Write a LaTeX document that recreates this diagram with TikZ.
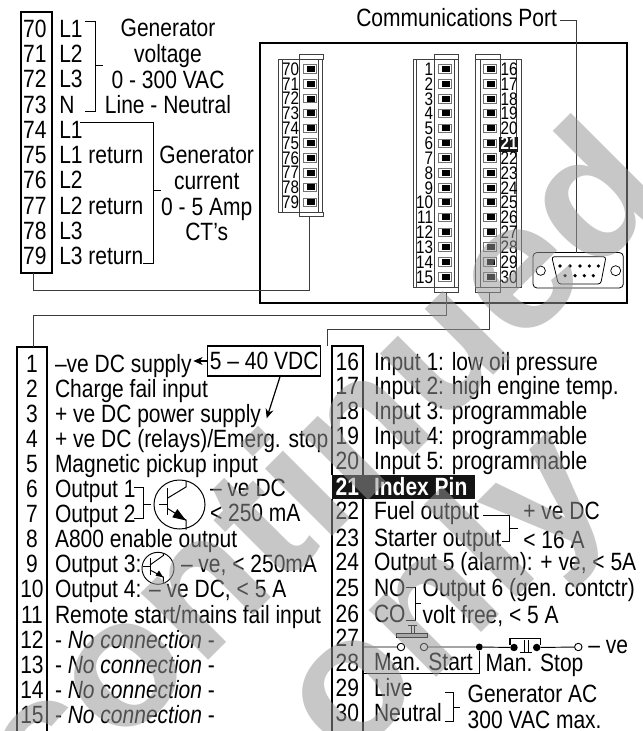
\documentclass[tikz,border=0pt]{standalone}
\usepackage{fontspec}
\usetikzlibrary{arrows.meta,calc}
\setmainfont[FakeStretch=0.84]{Liberation Sans}
\newfontfamily\wmfont[FakeStretch=1.03]{Liberation Sans}
\definecolor{wmgrey}{RGB}{151,151,151}
\definecolor{linegrey}{RGB}{60,60,60}
\newcommand\fsbig{\fontsize{18.75}{20}\selectfont}
\newcommand\fssmall{\fontsize{13.6}{14}\selectfont}
\tikzset{
  lbl/.style={anchor=west,inner sep=0pt,outer sep=0pt,text height=13.4pt,text depth=0pt,font=\fsbig},
  ctr/.style={lbl,anchor=center},
  pinl/.style={anchor=center,inner sep=0pt,outer sep=0pt,text height=9.6pt,text depth=0pt,font=\fssmall},
  pinr/.style={pinl,anchor=east},
  pinw/.style={pinl,anchor=west},
  heavy/.style={draw=black,line width=1.3pt},
  conn/.style={draw=linegrey,line width=0.75pt},
  thinl/.style={draw=black,line width=0.6pt},
  brk/.style={draw=black,line width=0.6pt},
  plugl/.style={draw=black!75,line width=0.55pt},
  boxn/.style={draw=black,line width=0.9pt,inner sep=0pt,outer sep=0pt},
  headarrow/.style={draw=black,line width=0.9pt,-{Stealth[length=7pt,width=6pt]}},
  wmark/.style={rotate=45,anchor=base east,opacity=0.53,text=wmgrey,inner sep=0pt,font=\wmfont\bfseries\fontsize{135}{135}\selectfont},
}
\newcommand\pinsq[2]{%
  \draw[line width=0.45pt,draw=black!55,fill=white] (#1,#2-4.2) rectangle (#1+12.7,#2+4.2);
  \fill[black] (#1+3.4,#2-3) rectangle (#1+11.9,#2+3);
}
\begin{document}
\begin{tikzpicture}[x=0.75pt,y=-0.75pt]
\useasboundingbox (0,0) rectangle (642,731);
\fill[white] (0,0) rectangle (642,731);
% ---- top left terminal list
\node[boxn,heavy,minimum width=23.25pt,minimum height=196pt] (boxA) at (36.2,142.4) {};
\foreach \n/\yy in {70/28.3,71/53.3,72/79,73/104.5,74/130,75/155,76/180,77/205.5,78/230.7,79/256}
  \node[ctr] (a\n) at (34.9,\yy) {\n};
\foreach \n/\t/\yy in {70/L1/28.3,71/L2/53.3,72/L3/79,73/N/104.5,74/L1/130,75/L1 return/155,76/L2/180,77/L2 return/205.5,78/L3/230.7,79/L3 return/256}
  \node[lbl] (at\n) at (59.3,\yy) {\t};
\draw[brk] (85,21.7) -- (95.7,21.7) -- (95.7,111.7) -- (85,111.7) (95.7,65) -- (103,65);
\draw[brk] (80,122.3) -- (153.3,122.3) -- (153.3,263.3) -- (143,263.3) (153.3,190.7) -- (161,190.7);
\foreach \nm/\t/\yy in {gv1/Generator/28,gv2/voltage/54,gv3/0 - 300 VAC/80,gv4/Line - Neutral/105}
  \node[ctr] (\nm) at (168,\yy) {\t};
\foreach \nm/\t/\yy in {gc1/Generator/155,gc2/current/181,gc3/0 - 5 Amp/207,gc4/CT's/232}
  \node[ctr] (\nm) at (206.7,\yy) {\t};
% ---- instrument
\draw[heavy] (260,43.3) rectangle (627.3,302.7);
\node[ctr,anchor=east] (comms) at (557,17.3) {Communications Port};
% block A
\draw[plugl] (278,59.3) rectangle (322.7,212.3);
\draw[plugl] (282.3,59.3) -- (282.3,212.3) (299.3,59.3) -- (299.3,212.3) (318.7,59.3) -- (318.7,212.3);
\draw[plugl] (299.3,54.3) rectangle (323.3,59.3);
\draw[plugl] (299.3,212.3) rectangle (323.3,216.7);
\coordinate (plugAout) at (309.3,216.7);
\foreach \i in {0,...,9}{
  \pgfmathsetmacro\yy{69+\i*14.8}
  \pgfmathtruncatemacro\nn{70+\i}
  \pinsq{303.3}{\yy}
  \node[pinr] (pa\nn) at (299,\yy) {\nn};
}
% block B
\draw[plugl] (413.3,59.3) rectangle (458.3,287.3);
\draw[plugl] (416.7,59.3) -- (416.7,287.3) (434,59.3) -- (434,287.3) (454,59.3) -- (454,287.3);
\draw[plugl] (434,54.3) rectangle (458.3,59.3);
\draw[plugl] (434,287.3) rectangle (458.3,292.7);
\coordinate (plugBout) at (446,292.7);
\foreach \i in {0,...,14}{
  \pgfmathsetmacro\yy{69+\i*14.83}
  \pgfmathtruncatemacro\nn{1+\i}
  \pinsq{438.3}{\yy}
  \node[pinr] (pb\nn) at (433,\yy) {\nn};
}
% block C
\draw[plugl] (475.7,59.3) rectangle (521.7,287.3);
\draw[plugl] (480,59.3) -- (480,287.3) (500,59.3) -- (500,287.3) (516.7,59.3) -- (516.7,287.3);
\draw[plugl] (475.7,54.3) rectangle (500,59.3);
\draw[plugl] (475.7,287.3) rectangle (500,292.7);
\coordinate (plugCout) at (489.3,292.7);
\fill[black!90] (499.3,136.7) rectangle (517.7,151.7);
\foreach \i in {0,...,14}{
  \pgfmathsetmacro\yy{69+\i*14.83}
  \pgfmathtruncatemacro\nn{16+\i}
  \pinsq{483.3}{\yy}
  \ifnum\nn=21
    \node[pinw,text=white,font=\fssmall\bfseries] (pc\nn) at (500.7,\yy) {\nn};
  \else
    \node[pinw] (pc\nn) at (500.7,\yy) {\nn};
  \fi
}
% D-sub
\draw[line width=0.6pt,rounded corners=3pt] (533,252.5) rectangle (623.3,288);
\node[circle,draw,line width=0.55pt,minimum size=7pt,inner sep=0pt] (dsL) at (540.7,270.7) {};
\node[circle,draw,line width=0.55pt,minimum size=7.5pt,inner sep=0pt] (dsR) at (615.7,270.7) {};
\draw[line width=0.6pt,rounded corners=2pt] (551.7,256.7) -- (606,256.7) -- (600.7,284) -- (558.3,284) -- cycle;
\foreach \px in {560,570,580,589.3,598.3} \fill (\px,266) circle (1.8);
\foreach \px in {565,575,584.3,593.3} \fill (\px,275.7) circle (1.8);
\coordinate (dsubTop) at (576,252.7);
% connectors
\coordinate (boxAout) at (33.3,273);
\draw[conn] (boxAout) -- (33.3,290) -| (plugAout);
\coordinate (commsOut) at (560,20.7);
\draw[conn] (commsOut) -| (dsubTop);
% ---- lower left
\draw[heavy] (16.7,731) -- (16.7,346.7) -- (47.3,346.7) -- (47.3,731);
\coordinate (boxBtop) at (33.3,346.7);
\draw[conn] (plugBout) |- (33.3,315.7) -- (boxBtop);
\foreach \n/\yy in {1/363.3,2/388.3,3/413.3,4/438.3,5/463.3,6/488.3,7/513.3,8/538.3,9/563.3,10/589,11/614.3,12/640,13/665,14/690,15/715}
  \node[ctr] (b\n) at (32,\yy) {\n};
\foreach \n/\t/\yy in {t1/--ve DC supply/363.3,t2/Charge fail input/388.3,t3/+ ve DC power supply/413.3,t4/+ ve DC (relays)\slash Emerg. stop/438.3,t5/Magnetic pickup input/463.3,t6/Output 1/488.3,t7/Output 2/513.3,t8/A800 enable output/538.3,t9/Output 3:/563.3,t10/{Output 4: -- ve DC, < 5 A}/589,t11/Remote start\slash mains fail input/614.3}
  \node[lbl] (\n) at (55,\yy) {\t};
\foreach \n/\yy in {12/640,13/665,14/690,15/715}
  \node[lbl] (t\n) at (55,\yy) {- \textit{No connection} -};
\node[draw=black,line width=0.8pt,inner sep=0pt,minimum width=84.75pt,minimum height=22.5pt,text height=13.4pt,text depth=0pt,font=\fsbig] (vdc) at (264.2,361) {5 -- 40 VDC};
\coordinate (supplyEnd) at (193.3,361);
\coordinate (powerEnd) at (266.7,418.3);
\coordinate (vdcS) at (280,376.7);
\draw[headarrow] (vdc.west) -- (supplyEnd);
\draw[headarrow] (vdcS) -- (powerEnd);
% big transistor
\draw[brk] (134.3,487.7) -- (143.3,487.7) -- (143.3,518.3) -- (134.3,518.3) (143.3,504) -- (150.7,504);
\draw[line width=0.75pt] (179.5,504.5) ellipse (25.5 and 24.5);
\draw[line width=0.75pt] (159,504) -- (167.3,504) (167.3,488) -- (167.3,515);
\draw[line width=0.75pt] (167.3,498.3) -- (186,487) -- (186,481);
\draw[line width=0.75pt] (167.3,508.3) -- (186,520) -- (186,529.5);
\fill (186,520.5) -- (177.3,509) -- (172.3,517.3) -- cycle;
\node[lbl] (bt1) at (210,488) {-- ve DC};
\node[lbl] (bt2) at (210,513) {< 250 mA};
% small transistor
\draw[line width=0.7pt] (158,568.3) circle (16);
\draw[line width=0.7pt] (143,566.7) -- (150,566.7) (150,558) -- (150,575);
\draw[line width=0.7pt] (150,565) -- (163.3,555.5) -- (163.3,553);
\draw[line width=0.7pt] (150,570) -- (163.3,577) -- (163.3,583);
\fill (163.3,577.5) -- (159,570.5) -- (155.5,575.5) -- cycle;
\node[lbl] (st1) at (181,563.3) {-- ve, < 250mA};
% ---- lower right
\draw[heavy] (332.3,475) -- (332.3,346) -- (362.7,346) -- (362.7,475);
\draw[heavy] (332.3,499) -- (332.3,731);
\draw[heavy] (362.7,499) -- (362.7,731);
\coordinate (boxCtop) at (327.3,346);
\draw[conn] (plugCout) |- (327.3,329.3) -- (boxCtop);
\foreach \n/\yy in {16/361.7,17/386,18/411,19/436,20/461,22/511,23/537.7,24/562,25/587.7,26/613.3,27/637.7,28/662.7,29/688,30/712.7}
  \node[ctr] (c\n) at (347.3,\yy) {\n};
\fill[black!92] (331.7,475) rectangle (475,499);
\node[ctr,text=white,font=\fsbig\bfseries] (c21) at (347.3,487) {21};
\node[lbl,text=white,font=\fsbig\bfseries] (t21) at (374,487) {Index Pin};
\foreach \n/\t/\yy in {t16/Input 1: low oil pressure/361.7,t17/Input 2: high engine temp./386,t18/Input 3: programmable/411,t19/Input 4: programmable/436,t20/Input 5: programmable/461,t22/Fuel output/511,t23/Starter output/537.7,t24/{Output 5 (alarm): + ve, < 5A}/562,t25/NO/587.7,t26/CO/613.3,t28/Man. Start/662,t29/Live/688,t30/Neutral/712.7}
  \node[lbl] (\n) at (374,\yy) {\t};
\draw[brk] (483,515.7) -- (509,515.7) -- (509,541.7) -- (501.7,541.7) (509,528.3) -- (517.7,528.3);
\node[lbl] (r1) at (523.3,511) {+ ve DC};
\node[lbl] (r2) at (523.3,539.3) {< 16 A};
\draw[brk] (406,587.7) -- (415,587.7) -- (415,620) -- (406,620) (415,603.3) -- (420.7,603.3);
\node[lbl] (r3) at (422.7,587.7) {Output 6 (gen. contctr)};
\node[lbl] (r4) at (422.7,615) {volt free, < 5 A};
% switches
\node[circle,draw,line width=0.7pt,fill=white,minimum size=5.6pt,inner sep=0pt] (sw1) at (401,647) {};
\node[circle,draw,line width=0.7pt,fill=white,minimum size=5.6pt,inner sep=0pt] (sw2) at (424,647) {};
\node[circle,fill=black,minimum size=5.2pt,inner sep=0pt] (jn) at (479.3,647) {};
\node[circle,fill=black,minimum size=5.6pt,inner sep=0pt] (st1c) at (514,647.5) {};
\node[circle,fill=black,minimum size=5.6pt,inner sep=0pt] (st2c) at (536.7,647.5) {};
\node[circle,draw,line width=0.7pt,fill=white,minimum size=5.6pt,inner sep=0pt] (neg) at (578.3,647) {};
\coordinate (l27) at (362.7,647);
\coordinate (l28) at (362.7,673.3);
\draw[line width=0.7pt] (l27) -- (sw1) (sw2) -- (jn) -- (st1c) (st2c) -- (neg);
\draw[line width=0.7pt] (l28) -| (jn);
\draw[line width=0.6pt,fill=black!25] (396.7,633.5) rectangle (427.3,637.5);
\draw[line width=0.7pt] (408,625) -- (417.3,625) (411,625) -- (411,633.5) (414.5,625) -- (414.5,633.5);
\draw[line width=0.9pt] (510,645) -- (510,638.8) -- (540.7,638.8) -- (540.7,645);
\draw[line width=0.7pt] (520,652.7) -- (531.7,652.7) (524,640) -- (524,652.7) (528,640) -- (528,652.7);
\node[lbl] (r5) at (588.3,645) {-- ve};
\node[lbl] (r6) at (485.7,663) {Man. Stop};
\draw[brk] (445,692.3) -- (453.3,692.3) -- (453.3,721.7) -- (445,721.7) (453.3,707.3) -- (460,707.3);
\node[lbl] (r7) at (467.7,693.3) {Generator AC};
\node[lbl] (r8) at (467.7,720) {300 VAC max.};
% ---- watermark on top
\begin{scope}
\clip (0,0) rectangle (642,731);
\node[wmark] (wm1) at (673,196) {Discontinued};
\node[wmark] (wm2) at (617,497) {Support only};
\end{scope}
\end{tikzpicture}
\end{document}
